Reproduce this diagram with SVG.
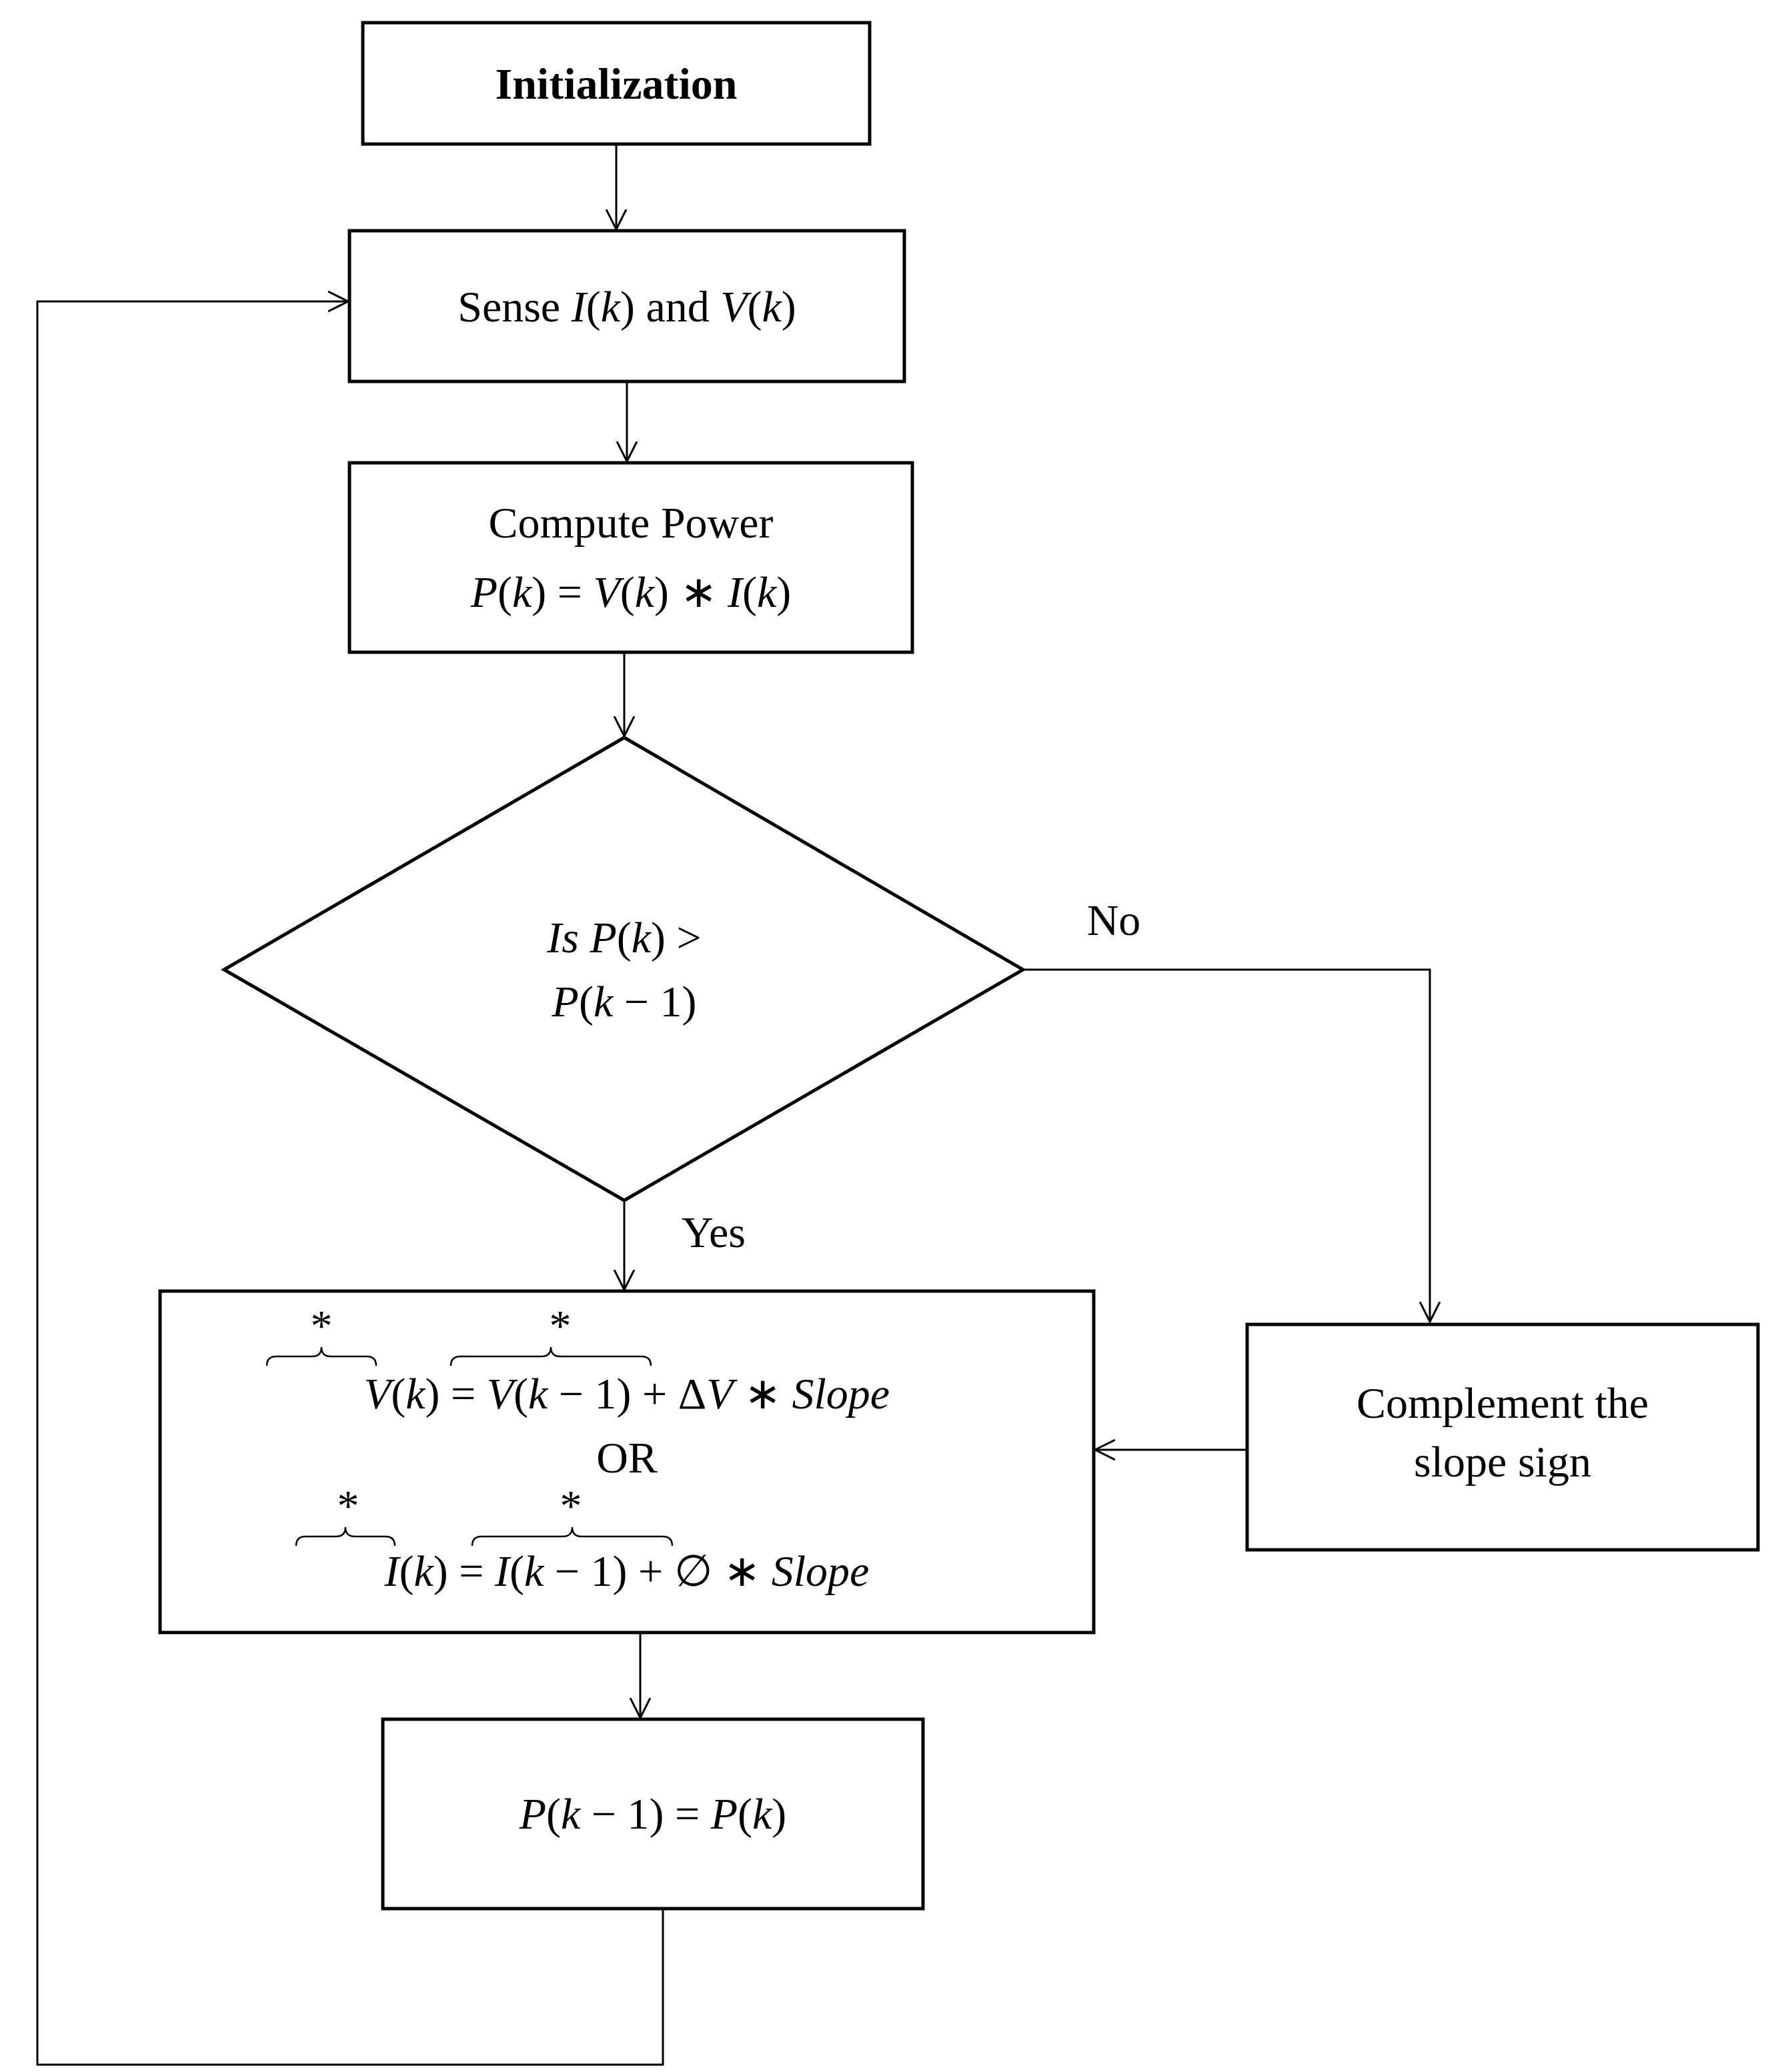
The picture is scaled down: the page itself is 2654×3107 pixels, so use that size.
<svg xmlns="http://www.w3.org/2000/svg" width="2654" height="3107" viewBox="0 0 2654 3107">
<style>
.b{fill:#fff;stroke:#000;stroke-width:5}
.t{font-family:"Liberation Serif",serif;font-size:66px;text-anchor:middle;fill:#000}
.i{font-style:italic}
.c{fill:none;stroke:#000;stroke-width:3}
.br{fill:none;stroke:#000;stroke-width:2.5}
</style>
<defs>
<marker id="a" markerWidth="40" markerHeight="40" refX="30" refY="15" orient="auto" markerUnits="userSpaceOnUse" viewBox="0 0 40 30">
<polyline points="0,0 30,15 0,30" fill="none" stroke="#000" stroke-width="3"/>
</marker>
</defs>
<rect width="2654" height="3107" fill="#fff"/>
<g id="connectors">
<line class="c" x1="924" y1="216" x2="924" y2="344" marker-end="url(#a)"/>
<line class="c" x1="940" y1="572" x2="940" y2="692" marker-end="url(#a)"/>
<line class="c" x1="936" y1="978" x2="936" y2="1104" marker-end="url(#a)"/>
<polyline class="c" points="1534,1454 2144,1454 2144,1982" marker-end="url(#a)"/>
<line class="c" x1="936" y1="1800" x2="936" y2="1934" marker-end="url(#a)"/>
<line class="c" x1="1870" y1="2174" x2="1642" y2="2174" marker-end="url(#a)"/>
<line class="c" x1="960" y1="2448" x2="960" y2="2576" marker-end="url(#a)"/>
<polyline class="c" points="994,2862 994,3096 56,3096 56,452 522,452" marker-end="url(#a)"/>
<text class="t" x="1670" y="1402">No</text>
<text class="t" x="1070" y="1870">Yes</text>
</g>
<g id="init"><rect class="b" x="544" y="34" width="760" height="182"/><text class="t" x="924" y="148" font-weight="bold">Initialization</text></g>
<g id="sense"><rect class="b" x="524" y="346" width="832" height="226"/><text class="t" x="940" y="482">Sense <tspan class="i">I</tspan>(<tspan class="i">k</tspan>) and <tspan class="i">V</tspan>(<tspan class="i">k</tspan>)</text></g>
<g id="compute"><rect class="b" x="524" y="694" width="844" height="284"/><text class="t" x="946" y="806">Compute Power</text><text class="t" x="946" y="910"><tspan class="i">P</tspan>(<tspan class="i">k</tspan>) = <tspan class="i">V</tspan>(<tspan class="i">k</tspan>) ∗ <tspan class="i">I</tspan>(<tspan class="i">k</tspan>)</text></g>
<g id="decision"><polygon class="b" points="936,1106 1534,1454 936,1800 336,1454"/><text class="t" x="936" y="1428"><tspan class="i">Is P</tspan>(<tspan class="i">k</tspan>) &gt;</text><text class="t" x="936" y="1524"><tspan class="i">P</tspan>(<tspan class="i">k</tspan> − 1)</text></g>
<g id="update"><rect class="b" x="240" y="1936" width="1400" height="512"/>
<text class="t" x="940" y="2112"><tspan class="i">V</tspan>(<tspan class="i">k</tspan>) = <tspan class="i">V</tspan>(<tspan class="i">k</tspan> − 1) + Δ<tspan class="i">V</tspan> ∗ <tspan class="i">Slope</tspan></text>
<text class="t" x="940" y="2208">OR</text>
<text class="t" x="940" y="2378"><tspan class="i">I</tspan>(<tspan class="i">k</tspan>) = <tspan class="i">I</tspan>(<tspan class="i">k</tspan> − 1) + ∅ ∗ <tspan class="i">Slope</tspan></text>
<path class="br" d="M400,2048 q0,-14 14,-14 h54 q14,0 14,-14 q0,14 14,14 h54 q14,0 14,14"/>
<text class="t" x="482" y="2010" font-size="44">*</text>
<path class="br" d="M676,2048 q0,-14 14,-14 h122 q14,0 14,-14 q0,14 14,14 h122 q14,0 14,14"/>
<text class="t" x="840" y="2010" font-size="44">*</text>
<path class="br" d="M444,2318 q0,-14 14,-14 h46 q14,0 14,-14 q0,14 14,14 h46 q14,0 14,14"/>
<text class="t" x="522" y="2280" font-size="44">*</text>
<path class="br" d="M708,2318 q0,-14 14,-14 h122 q14,0 14,-14 q0,14 14,14 h122 q14,0 14,14"/>
<text class="t" x="856" y="2280" font-size="44">*</text>
</g>
<g id="complement"><rect class="b" x="1870" y="1986" width="766" height="338"/><text class="t" x="2253" y="2126">Complement the</text><text class="t" x="2253" y="2214">slope sign</text></g>
<g id="store"><rect class="b" x="574" y="2578" width="810" height="284"/><text class="t" x="979" y="2742"><tspan class="i">P</tspan>(<tspan class="i">k</tspan> − 1) = <tspan class="i">P</tspan>(<tspan class="i">k</tspan>)</text></g>
</svg>
